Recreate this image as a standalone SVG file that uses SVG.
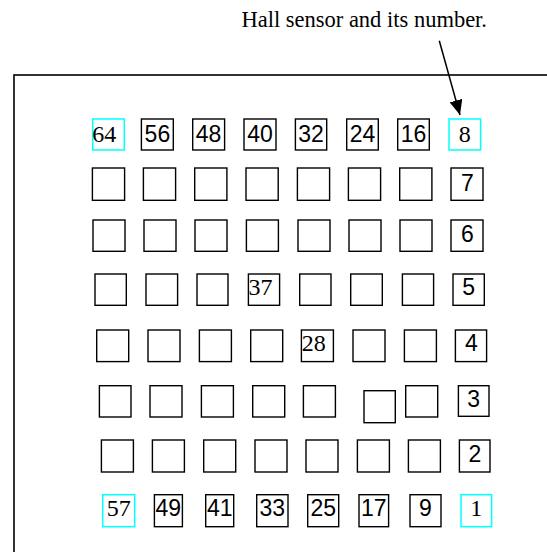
<svg xmlns="http://www.w3.org/2000/svg" width="547" height="552" viewBox="0 0 547 552">
<style>
.b{fill:none;stroke:#000;stroke-width:1.4}
.c{fill:none;stroke:#00ffff;stroke-width:1.5}
.s{font-family:"Liberation Sans",Arial,sans-serif;font-size:23px;fill:#000;text-anchor:middle}
.r{font-family:"Liberation Serif","Times New Roman",serif;font-size:24px;fill:#000}
.m{text-anchor:middle}
.frame{fill:none;stroke:#000;stroke-width:1.6}
.title{font-family:"Liberation Serif","Times New Roman",serif;font-size:22.5px;fill:#000;text-anchor:end}
</style>
<defs>
<marker id="ah" markerUnits="userSpaceOnUse" markerWidth="16" markerHeight="13" refX="15" refY="6.5" orient="auto">
<path d="M0,0 L15,6.5 L0,13 z" fill="#000"/>
</marker>
</defs>
<rect id="frame" class="frame" x="14" y="75" width="560" height="520"/>
<text id="title" class="title" x="487" y="27">Hall sensor and its number.</text>
<g id="connectors">
<line x1="439.3" y1="40.7" x2="460" y2="115" stroke="#000" stroke-width="1.5" marker-end="url(#ah)"/>
</g>
<!-- Row 1 -->
<g id="s64"><rect class="c" x="92.7" y="119" width="31.6" height="31"/><text class="r" x="92.3" y="141.7">64</text></g>
<g id="s56"><rect class="b" x="141.4" y="119" width="31.9" height="31"/><text class="s" x="157.4" y="141.7">56</text></g>
<g id="s48"><rect class="b" x="192.7" y="119" width="31.9" height="31"/><text class="s" x="208.6" y="141.7">48</text></g>
<g id="s40"><rect class="b" x="244" y="119" width="32" height="31"/><text class="s" x="260" y="141.7">40</text></g>
<g id="s32"><rect class="b" x="295.4" y="119" width="31.3" height="31"/><text class="s" x="311" y="141.7">32</text></g>
<g id="s24"><rect class="b" x="346.7" y="119" width="31.6" height="31"/><text class="s" x="362.5" y="141.7">24</text></g>
<g id="s16"><rect class="b" x="397.7" y="119" width="31.6" height="31"/><text class="s" x="413.5" y="141.7">16</text></g>
<g id="s8"><rect class="c" x="449" y="119" width="31.6" height="31"/><text class="r m" x="464.8" y="141.7">8</text></g>
<!-- Row 2 -->
<g id="s63"><rect class="b" x="92.4" y="168" width="32.2" height="32.3"/></g>
<g id="s55"><rect class="b" x="143.4" y="168" width="32.2" height="32.3"/></g>
<g id="s47"><rect class="b" x="194.7" y="168" width="32.2" height="32.3"/></g>
<g id="s39"><rect class="b" x="246" y="168" width="32.2" height="32.3"/></g>
<g id="s31"><rect class="b" x="297.4" y="168" width="32.2" height="32.3"/></g>
<g id="s23"><rect class="b" x="348.4" y="168" width="32.2" height="32.3"/></g>
<g id="s15"><rect class="b" x="399.7" y="168" width="32.2" height="32.3"/></g>
<g id="s7"><rect class="b" x="451" y="168" width="32" height="32.3"/><text class="s" x="467.3" y="190.7">7</text></g>
<!-- Row 3 -->
<g id="s62"><rect class="b" x="93" y="220" width="32" height="31.3"/></g>
<g id="s54"><rect class="b" x="144" y="220" width="32" height="31.3"/></g>
<g id="s46"><rect class="b" x="195" y="220" width="32" height="31.3"/></g>
<g id="s38"><rect class="b" x="246.4" y="220" width="32" height="31.3"/></g>
<g id="s30"><rect class="b" x="298" y="220" width="32" height="31.3"/></g>
<g id="s22"><rect class="b" x="349" y="220" width="32" height="31.3"/></g>
<g id="s14"><rect class="b" x="400" y="220" width="32" height="31.3"/></g>
<g id="s6"><rect class="b" x="451" y="220" width="32" height="31.3"/><text class="s" x="467.3" y="241.7">6</text></g>
<!-- Row 4 -->
<g id="s61"><rect class="b" x="95" y="274" width="31.3" height="31.3"/></g>
<g id="s53"><rect class="b" x="146" y="274" width="31.6" height="31.3"/></g>
<g id="s45"><rect class="b" x="197" y="274" width="31" height="31.3"/></g>
<g id="s37"><rect class="b" x="248.4" y="274" width="31.2" height="31.3"/><text class="r" x="248.6" y="295">37</text></g>
<g id="s29"><rect class="b" x="299.7" y="274" width="31.3" height="31.3"/></g>
<g id="s21"><rect class="b" x="350.7" y="274" width="31.6" height="31.3"/></g>
<g id="s13"><rect class="b" x="402.4" y="274" width="31.2" height="31.3"/></g>
<g id="s5"><rect class="b" x="453" y="274" width="31.3" height="31.3"/><text class="s" x="468.7" y="295">5</text></g>
<!-- Row 5 -->
<g id="s60"><rect class="b" x="96.7" y="330" width="32" height="31.6"/></g>
<g id="s52"><rect class="b" x="148" y="330" width="32" height="31.6"/></g>
<g id="s44"><rect class="b" x="199.4" y="330" width="32" height="31.6"/></g>
<g id="s36"><rect class="b" x="250.7" y="330" width="32" height="31.6"/></g>
<g id="s28"><rect class="b" x="301.4" y="330" width="32" height="31.6"/><text class="r" x="301.8" y="350.7">28</text></g>
<g id="s20"><rect class="b" x="353" y="330" width="32" height="31.6"/></g>
<g id="s12"><rect class="b" x="404.4" y="330" width="32" height="31.6"/></g>
<g id="s4"><rect class="b" x="455.4" y="330" width="31.2" height="31.6"/><text class="s" x="471.5" y="350.7">4</text></g>
<!-- Row 6 -->
<g id="s59"><rect class="b" x="99.4" y="385.7" width="31.6" height="31.3"/></g>
<g id="s51"><rect class="b" x="150" y="385.7" width="32" height="31.3"/></g>
<g id="s43"><rect class="b" x="201.4" y="385.7" width="32" height="31.3"/></g>
<g id="s35"><rect class="b" x="252.7" y="385.7" width="32" height="31.3"/></g>
<g id="s27"><rect class="b" x="303.4" y="385.7" width="32" height="31.3"/></g>
<g id="s19"><rect class="b" x="364" y="390.7" width="31.3" height="32"/></g>
<g id="s11"><rect class="b" x="405.7" y="385.7" width="32" height="31.3"/></g>
<g id="s3"><rect class="b" x="458.4" y="385.7" width="30.6" height="30.6"/><text class="s" x="473.7" y="406.7">3</text></g>
<!-- Row 7 -->
<g id="s58"><rect class="b" x="101.4" y="440" width="32" height="32"/></g>
<g id="s50"><rect class="b" x="152.4" y="440" width="32" height="32"/></g>
<g id="s42"><rect class="b" x="203.7" y="440" width="32" height="32"/></g>
<g id="s34"><rect class="b" x="255" y="440" width="32" height="32"/></g>
<g id="s26"><rect class="b" x="306" y="440" width="32" height="32"/></g>
<g id="s18"><rect class="b" x="357.4" y="440" width="32" height="32"/></g>
<g id="s10"><rect class="b" x="408.4" y="440" width="32" height="32"/></g>
<g id="s2"><rect class="b" x="459.4" y="440" width="30.6" height="32"/><text class="s" x="475" y="461.7">2</text></g>
<!-- Row 8 -->
<g id="s57"><rect class="c" x="102.7" y="494.7" width="32" height="32"/><text class="r m" x="118.7" y="516">57</text></g>
<g id="s49"><rect class="b" x="154.4" y="494.7" width="28" height="32"/><text class="s" x="168.3" y="516">49</text></g>
<g id="s41"><rect class="b" x="205.7" y="494.7" width="28" height="32"/><text class="s" x="219.7" y="516">41</text></g>
<g id="s33"><rect class="b" x="256.7" y="494.7" width="31.3" height="32"/><text class="s" x="272.3" y="516">33</text></g>
<g id="s25"><rect class="b" x="307.7" y="494.7" width="31" height="32"/><text class="s" x="323.2" y="516">25</text></g>
<g id="s17"><rect class="b" x="359" y="494.7" width="29.6" height="32"/><text class="s" x="373.8" y="516">17</text></g>
<g id="s9"><rect class="b" x="410" y="494.7" width="31" height="32"/><text class="s" x="425.5" y="516">9</text></g>
<g id="s1"><rect class="c" x="461" y="494.7" width="30.6" height="32"/><text class="r m" x="476.3" y="516">1</text></g>
</svg>
